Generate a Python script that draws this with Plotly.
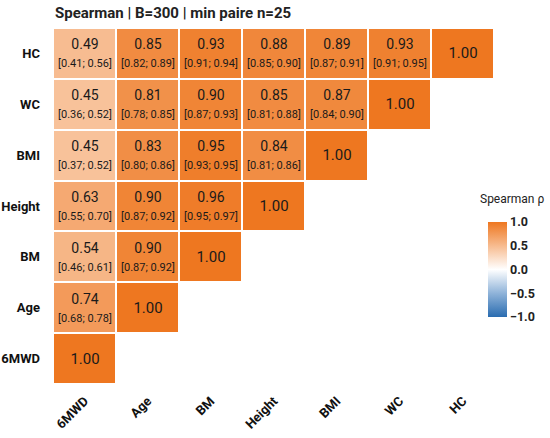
import plotly.graph_objects as go

labels = ["6MWD", "Age", "BM", "Height", "BMI", "WC", "HC"]

# rows from bottom (6MWD) to top (HC), columns in the same order
rho = [
    [1.00],
    [0.74, 1.00],
    [0.54, 0.90, 1.00],
    [0.63, 0.90, 0.96, 1.00],
    [0.45, 0.83, 0.95, 0.84, 1.00],
    [0.45, 0.81, 0.90, 0.85, 0.87, 1.00],
    [0.49, 0.85, 0.93, 0.88, 0.89, 0.93, 1.00],
]
ci_lo = [
    [],
    [0.68],
    [0.46, 0.87],
    [0.55, 0.87, 0.95],
    [0.37, 0.80, 0.93, 0.81],
    [0.36, 0.78, 0.87, 0.81, 0.84],
    [0.41, 0.82, 0.91, 0.85, 0.87, 0.91],
]
ci_hi = [
    [],
    [0.78],
    [0.61, 0.92],
    [0.70, 0.92, 0.97],
    [0.52, 0.86, 0.95, 0.86],
    [0.52, 0.85, 0.93, 0.88, 0.90],
    [0.56, 0.89, 0.94, 0.90, 0.91, 0.95],
]

n = len(labels)
z = []
txt = []
for i in range(n):
    zr, tr = [], []
    for j in range(n):
        if j < len(rho[i]):
            zr.append(rho[i][j])
            if j < len(ci_lo[i]):
                tr.append("%.2f<br><span style='font-size:11px'>[%.2f; %.2f]</span>"
                          % (rho[i][j], ci_lo[i][j], ci_hi[i][j]))
            else:
                tr.append("<span style='font-size:15px'>%.2f</span>" % rho[i][j])
        else:
            zr.append(None)
            tr.append("")
    z.append(zr)
    txt.append(tr)

font = "Roboto, sans-serif"

W, H = 550, 438
L, R, T, B = 53, 8, 28, 54
pw, ph = W - L - R, H - T - B

fig = go.Figure(go.Heatmap(
    z=z, x=labels, y=labels, text=txt, texttemplate="%{text}",
    textfont=dict(family=font, size=14, color="#1a1a1a"),
    zmin=-1, zmax=1,
    colorscale=[[0, "#2a6cb0"], [0.25, "#8fb3d9"], [0.5, "#ffffff"],
                [0.75, "#f7bb8f"], [1, "#ee7720"]],
    xgap=2, ygap=2, hoverongaps=False,
    colorbar=dict(
        x=(482 - L) / pw, xanchor="left",
        y=(384 - 269.5) / ph, yanchor="middle",
        len=115 / ph, thickness=19, outlinewidth=0,
        tickvals=[-1, -0.5, 0, 0.5, 1],
        ticktext=["−1.0", "−0.5", "0.0", "0.5", "1.0"],
        tickfont=dict(family=font, size=12.5, color="#222", weight="bold"),
        ticks="",
    ),
))

# chart title and colorbar title as annotations pinned to the plot area
fig.add_annotation(text="<b>Spearman | B=300 | min paire n=25</b>",
                   xref="paper", yref="paper", x=0, y=(384 - 13) / ph,
                   xanchor="left", yanchor="middle", showarrow=False,
                   font=dict(family=font, size=15, color="#222"))
fig.add_annotation(text="Spearman ρ", xref="paper", yref="paper",
                   x=(482 - L) / pw, y=(384 - 199) / ph, xanchor="left", yanchor="middle",
                   showarrow=False, font=dict(family=font, size=12, color="#222"))

fig.update_layout(
    width=W, height=H,
    margin=dict(l=L, r=R, t=T, b=B),
    plot_bgcolor="white", paper_bgcolor="white",
    font=dict(family=font),
)
fig.update_xaxes(tickangle=-45, showgrid=False, zeroline=False,
                 domain=[0, 445 / pw], automargin=False,
                 tickfont=dict(family=font, size=13, color="#111", weight="bold"),
                 ticklabelstandoff=6)
fig.update_yaxes(showgrid=False, zeroline=False, automargin=False,
                 tickfont=dict(family=font, size=13, color="#111", weight="bold"),
                 ticklabelstandoff=12)

# drop the browser's default body margin so the figure fills the window exactly
fig.write_html("out.html", config={"displayModeBar": False},
               post_script="document.body.style.margin='0';")
